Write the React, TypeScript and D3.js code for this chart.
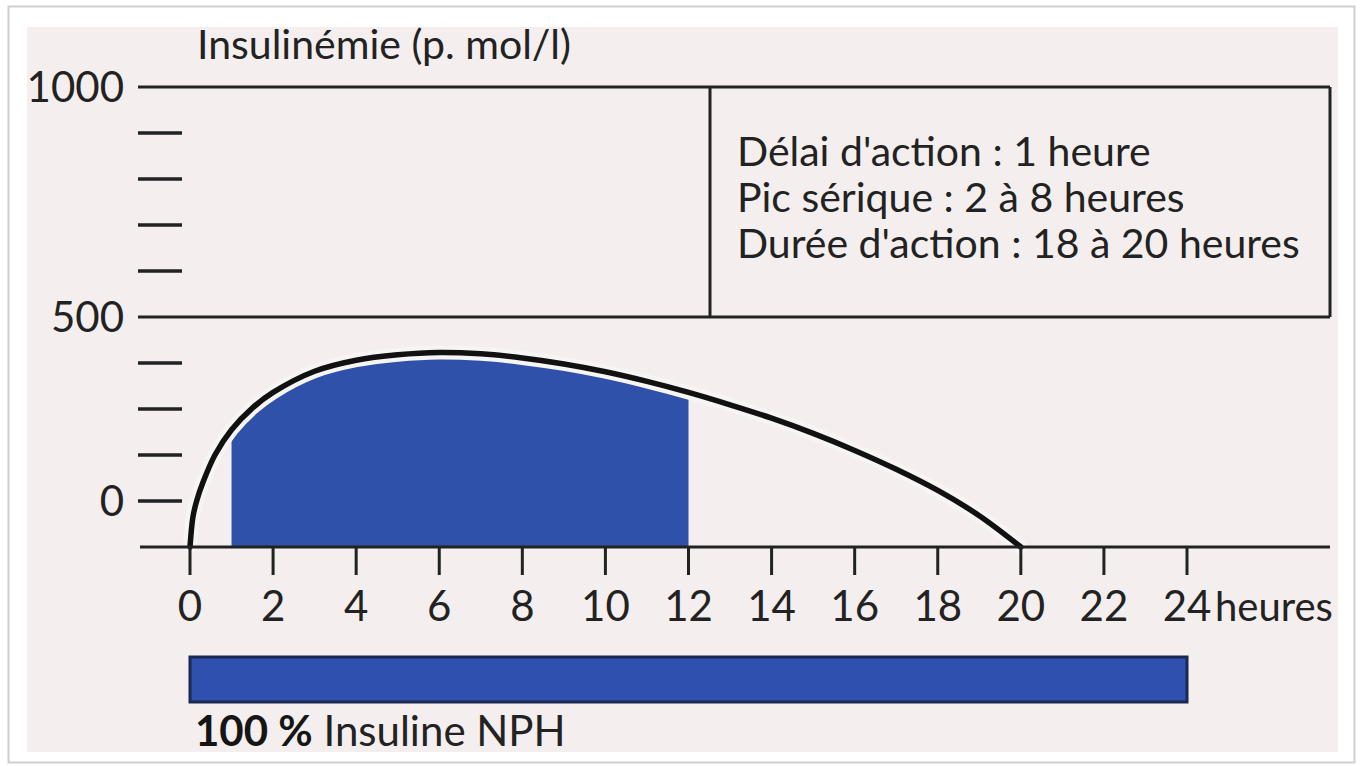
import React from "react";
import * as d3 from "d3";

// ---- data ----
const hours = [0, 0.07, 0.16, 0.31, 0.6, 1, 1.5, 2, 3, 4, 5, 6, 7, 8, 9, 10, 11, 12, 13, 14, 15, 16, 17, 18, 19, 20];
const insulin = [0, 65, 100, 140, 200, 255, 302, 336, 382, 406, 418, 423, 420, 411, 398, 381, 360, 336, 309, 280, 247, 210, 169, 123, 68, 0];
const fillStart = 1;
const fillEnd = 12;
const xTicks = [0, 2, 4, 6, 8, 10, 12, 14, 16, 18, 20, 22, 24];
const yMinorTicks = [900, 800, 700, 600, 400, 300, 200, 100];
const yLabels = [
  { value: 1000, label: "1000" },
  { value: 500, label: "500" },
  { value: 100, label: "0" },
];
const infoLines = [
  "Délai d'action : 1 heure",
  "Pic sérique : 2 à 8 heures",
  "Durée d'action : 18 à 20 heures",
];
const yTitle = "Insulinémie (p. mol/l)";
const xUnit = "heures";
const barStart = 0;
const barEnd = 24;

const FONT = "Lato, 'Noto Sans', sans-serif";
const INK = "#222222";

export default function App() {
  const x = d3.scaleLinear().domain([0, 24]).range([190, 1187]);
  const y = d3.scaleLinear().domain([0, 1000]).range([547, 87]);
  const pts: [number, number][] = hours.map((h, i) => [h, insulin[i]]);

  const curve = d3.curveCatmullRom.alpha(0.5);

  const line = d3
    .line<[number, number]>()
    .x((d) => x(d[0]))
    .y((d) => y(d[1]))
    .curve(curve);

  const area = d3
    .area<[number, number]>()
    .x((d) => x(d[0]))
    .y0(y(0))
    .y1((d) => y(d[1]))
    .curve(curve);

  const axisLeft = 138;
  const axisRight = 1330;
  const boxLeft = 710;

  return (
    <svg width={1363} height={766} style={{ position: "absolute", left: 0, top: 0 }}>
      <defs>
        <clipPath id="fillClip">
          <rect x={x(fillStart)} y={0} width={x(fillEnd) - x(fillStart)} height={y(0)} />
        </clipPath>
      </defs>
      <rect x={0} y={0} width={1363} height={766} fill="#ffffff" />
      <rect x={8.5} y={6.5} width={1346} height={756} fill="#ffffff" stroke="#cfcfcf" strokeWidth={2} />
      <rect x={27} y={27} width={1311} height={725} fill="#f4efee" />

      {/* title */}
      <text x={197} y={59} fontFamily={FONT} fontSize={41} fill={INK}>
        {yTitle}
      </text>

      {/* 1000 and 500 lines + box */}
      <line x1={axisLeft} x2={axisRight} y1={y(1000)} y2={y(1000)} stroke={INK} strokeWidth={3} />
      <line x1={axisLeft} x2={axisRight} y1={y(500)} y2={y(500)} stroke={INK} strokeWidth={3} />
      <line x1={boxLeft} x2={boxLeft} y1={y(1000)} y2={y(500)} stroke={INK} strokeWidth={3} />
      <line x1={axisRight} x2={axisRight} y1={y(1000)} y2={y(500)} stroke={INK} strokeWidth={3} />

      {infoLines.map((t, i) => (
        <text key={i} x={737} y={166 + i * 46} fontFamily={FONT} fontSize={41} fill={INK}>
          {t}
        </text>
      ))}

      {/* minor y ticks */}
      {yMinorTicks.map((v) => (
        <line key={v} x1={138} x2={182} y1={y(v)} y2={y(v)} stroke={INK} strokeWidth={3.5} />
      ))}
      {yLabels.map((d) => (
        <text
          key={d.value}
          x={124}
          y={y(d.value)}
          dy="0.36em"
          textAnchor="end"
          fontFamily={FONT}
          fontSize={42}
          fill={INK}
        >
          {d.label}
        </text>
      ))}

      {/* fill */}
      <path d={area(pts) || ""} fill="#2f51a9" clipPath="url(#fillClip)" />
      {/* curve with light halo */}
      <path d={line(pts) || ""} fill="none" stroke="#f7f4f4" strokeWidth={14} strokeLinecap="round" />
      <path d={line(pts) || ""} fill="none" stroke="#111111" strokeWidth={5.5} strokeLinecap="round" />

      {/* x axis */}
      <line x1={140} x2={axisRight} y1={y(0)} y2={y(0)} stroke={INK} strokeWidth={3} />
      {xTicks.map((t) => (
        <g key={t}>
          <line x1={x(t)} x2={x(t)} y1={y(0)} y2={y(0) + 28} stroke={INK} strokeWidth={3} />
          <text x={x(t)} y={621} textAnchor="middle" fontFamily={FONT} fontSize={42} fill={INK}>
            {t}
          </text>
        </g>
      ))}
      <text x={x(24) + 28} y={621} fontFamily={FONT} fontSize={40} fill={INK}>
        {xUnit}
      </text>

      {/* bottom bar */}
      <rect
        x={x(barStart)}
        y={657}
        width={x(barEnd) - x(barStart)}
        height={45}
        fill="#2f50ae"
        stroke="#1b2850"
        strokeWidth={3}
      />
      <text x={195} y={746} fontFamily={FONT} fontSize={42} fill={INK}>
        <tspan fontWeight="bold" fill="#151515">100 %</tspan>
        <tspan> Insuline NPH</tspan>
      </text>
    </svg>
  );
}
